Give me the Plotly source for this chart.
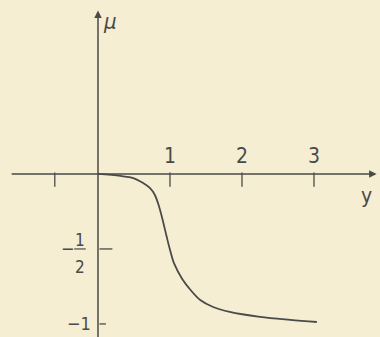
import plotly.graph_objects as go

# curve
y_vals = [0.0, 0.31, 0.49, 0.625, 0.72, 0.79, 0.85, 0.90, 0.95, 1.0, 1.06, 1.17, 1.28, 1.42, 1.60, 1.83, 2.25, 2.67, 3.04]
mu_vals = [0.0, -0.013, -0.027, -0.06, -0.093, -0.14, -0.22, -0.31, -0.41, -0.505, -0.60, -0.70, -0.77, -0.84, -0.887, -0.92, -0.953, -0.973, -0.987]

x_ticks = [-0.6, 1, 2, 3]
x_tick_labels = ['', '1', '2', '3']
y_ticks = [-0.5, -1]

ink = '#4a4a48'
paper = '#f5eed3'
font = 'DejaVu Sans Condensed, Liberation Sans Narrow, DejaVu Sans, sans-serif'

fig = go.Figure()

fig.add_trace(go.Scatter(
    x=y_vals, y=mu_vals, mode='lines',
    line=dict(color=ink, width=1.8, shape='spline', smoothing=1),
    hoverinfo='skip'
))

# x ticks (below the axis)
for t in x_ticks:
    fig.add_trace(go.Scatter(x=[t, t], y=[0.01, -0.085], mode='lines',
                             line=dict(color=ink, width=1.3), hoverinfo='skip'))
# y ticks (right of the axis)
for t, ln in zip(y_ticks, [0.2, 0.11]):
    fig.add_trace(go.Scatter(x=[0.02, ln], y=[t, t], mode='lines',
                             line=dict(color=ink, width=1.3), hoverinfo='skip'))

# axes with arrows
fig.add_annotation(x=3.87, y=0, ax=-1.22, ay=0, xref='x', yref='y', axref='x', ayref='y',
                   showarrow=True, arrowhead=2, arrowsize=1, arrowwidth=1.5, arrowcolor=ink, text='')
fig.add_annotation(x=0, y=1.09, ax=0, ay=-1.1, xref='x', yref='y', axref='x', ayref='y',
                   showarrow=True, arrowhead=2, arrowsize=1, arrowwidth=1.5, arrowcolor=ink, text='')

for t, lab in zip(x_ticks, x_tick_labels):
    if lab:
        fig.add_annotation(x=t, y=0.12, text=lab, showarrow=False,
                           font=dict(family=font, size=21, color=ink))

fig.add_annotation(x=3.73, y=-0.15, text='y', showarrow=False,
                   font=dict(family=font, size=21, color=ink))
fig.add_annotation(x=0.17, y=1.02, text='<i>μ</i>', showarrow=False,
                   font=dict(family=font, size=22, color=ink))

# -1/2 label
fig.add_annotation(x=-0.42, y=-0.5, text='−', showarrow=False,
                   font=dict(family=font, size=18, color=ink))
fig.add_annotation(x=-0.25, y=-0.44, text='1', showarrow=False,
                   font=dict(family=font, size=17, color=ink))
fig.add_annotation(x=-0.25, y=-0.62, text='2', showarrow=False,
                   font=dict(family=font, size=17, color=ink))
fig.add_trace(go.Scatter(x=[-0.33, -0.17], y=[-0.5, -0.5], mode='lines',
                         line=dict(color=ink, width=1.2), hoverinfo='skip'))
# -1 label
fig.add_annotation(x=-0.27, y=-1.0, text='−1', showarrow=False,
                   font=dict(family=font, size=18, color=ink))

fig.update_layout(
    width=380, height=337,
    margin=dict(l=0, r=0, t=0, b=0),
    paper_bgcolor=paper, plot_bgcolor=paper,
    showlegend=False,
    xaxis=dict(range=[-1.361, 3.917], visible=False, fixedrange=True),
    yaxis=dict(range=[-1.087, 1.16], visible=False, fixedrange=True),
)

fig.write_html("out.html", config=dict(displayModeBar=False),
               post_script="document.body.style.margin='0';document.body.style.background='#f5eed3';")
